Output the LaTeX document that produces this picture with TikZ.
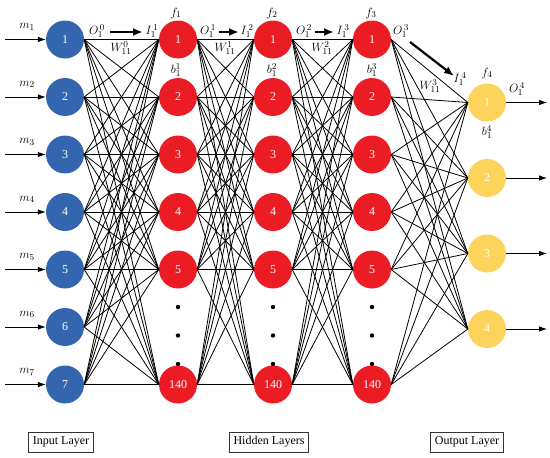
\documentclass[tikz,border=0pt]{standalone}
\usepackage{fontspec}
\setmainfont{Liberation Serif}
\usetikzlibrary{arrows.meta}
\definecolor{inblue}{HTML}{3466AF}
\definecolor{hidred}{HTML}{EC1C24}
\definecolor{outyel}{HTML}{FCD45C}
\tikzset{
 neuron/.style={circle, minimum size=38pt, inner sep=0pt, text=white, font=\fontsize{12}{14}\selectfont},
 inneuron/.style={neuron, fill=inblue},
 hidneuron/.style={neuron, fill=hidred},
 outneuron/.style={neuron, fill=outyel},
 conn/.style={line width=0.8pt, black},
 ioarrow/.style={line width=0.8pt, -{Latex[length=8pt,width=5.5pt]}},
 flowarrow/.style={line width=2.2pt, -{Latex[length=10pt,width=8pt]}},
 lab/.style={font=\fontsize{13}{15}\selectfont, inner sep=0pt},
 layerbox/.style={draw=black!80, line width=0.9pt, font=\fontsize{12}{14}\selectfont, minimum height=20pt, inner xsep=4pt, inner ysep=0pt},
 dotmark/.style={circle, fill=black, minimum size=4.4pt, inner sep=0pt}
}
\begin{document}
\begin{tikzpicture}[x=1pt,y=-1pt]
\useasboundingbox (0,0) rectangle (550,458);
% input layer
\foreach \i in {1,...,7} {
  \node[inneuron] (in\i) at (65,{39.5+57.5*(\i-1)}) {\i};
  \coordinate (src\i) at (5,{39.5+57.5*(\i-1)});
  \node[lab] (m\i) at (27,{27+57.5*(\i-1)}) {$m_{\i}$};
  \draw[ioarrow] (src\i) -- (in\i.west);
}
% hidden layers
\foreach \L/\x in {1/178,2/273,3/372} {
  \foreach \i in {1,...,5} {
    \node[hidneuron] (h\L-\i) at (\x,{39.5+57.5*(\i-1)}) {\i};
  }
  \node[hidneuron] (h\L-6) at (\x,384.5) {140};
  \node[dotmark] (d\L-1) at (\x,307) {};
  \node[dotmark] (d\L-2) at (\x,335.5) {};
  \node[dotmark] (d\L-3) at (\x,364) {};
}
% output layer
\foreach \i in {1,...,4} {
  \node[outneuron] (o\i) at (487,{102.5+75.5*(\i-1)}) {\i};
  \coordinate (dst\i) at (547,{102.5+75.5*(\i-1)});
  \draw[ioarrow] (o\i.east) -- (dst\i);
}
% connections
\foreach \a in {1,...,7} \foreach \b in {1,...,6} \draw[conn] (in\a.east) -- (h1-\b.west);
\foreach \a in {1,...,6} \foreach \b in {1,...,6} {
  \draw[conn] (h1-\a.east) -- (h2-\b.west);
  \draw[conn] (h2-\a.east) -- (h3-\b.west);
}
\foreach \a in {1,...,6} \foreach \b in {1,...,4} \draw[conn] (h3-\a.east) -- (o\b.west);
% layer labels
\node[lab] (f1) at (176,13) {$f_1$};
\node[lab] (f2) at (272,13) {$f_2$};
\node[lab] (f3) at (371,13) {$f_3$};
\node[lab] (f4) at (487,73) {$f_4$};
\node[lab] (b1) at (176,70) {$b_1^1$};
\node[lab] (b2) at (272,70) {$b_1^2$};
\node[lab] (b3) at (372,70) {$b_1^3$};
\node[lab] (b4) at (487,132) {$b_1^4$};
% flow labels
\node[lab] (O0) at (97,31) {$O_1^{\,0}$};
\node[lab] (I1) at (152,31) {$I_1^{\,1}$};
\node[lab] (W0) at (121,48) {$W_{11}^0$};
\coordinate (a0s) at (110,32); \coordinate (a0e) at (143,32);
\draw[flowarrow] (a0s) -- (a0e);
\node[lab] (O1) at (208,31) {$O_1^{\,1}$};
\node[lab] (I2) at (247,31) {$I_1^{\,2}$};
\node[lab] (W1) at (225,48) {$W_{11}^1$};
\coordinate (a1s) at (219,32); \coordinate (a1e) at (239,32);
\draw[flowarrow] (a1s) -- (a1e);
\node[lab] (O2) at (304,31) {$O_1^{\,2}$};
\node[lab] (I3) at (343,31) {$I_1^{\,3}$};
\node[lab] (W2) at (322,48) {$W_{11}^2$};
\coordinate (a2s) at (315,32); \coordinate (a2e) at (334,32);
\draw[flowarrow] (a2s) -- (a2e);
\node[lab] (O3) at (401,31) {$O_1^{\,3}$};
\node[lab] (I4) at (460,79) {$I_1^{\,4}$};
\node[lab] (W3) at (430,86) {$W_{11}^3$};
\coordinate (a3s) at (410,42); \coordinate (a3e) at (454,76);
\draw[flowarrow] (a3s) -- (a3e);
\node[lab] (O4) at (517,89) {$O_1^{\,4}$};
% bottom boxes
\node[layerbox] (inl) at (61,442) {Input Layer};
\node[layerbox] (hidl) at (269,442) {Hidden Layers};
\node[layerbox] (outl) at (467,442) {Output Layer};
\end{tikzpicture}
\end{document}
